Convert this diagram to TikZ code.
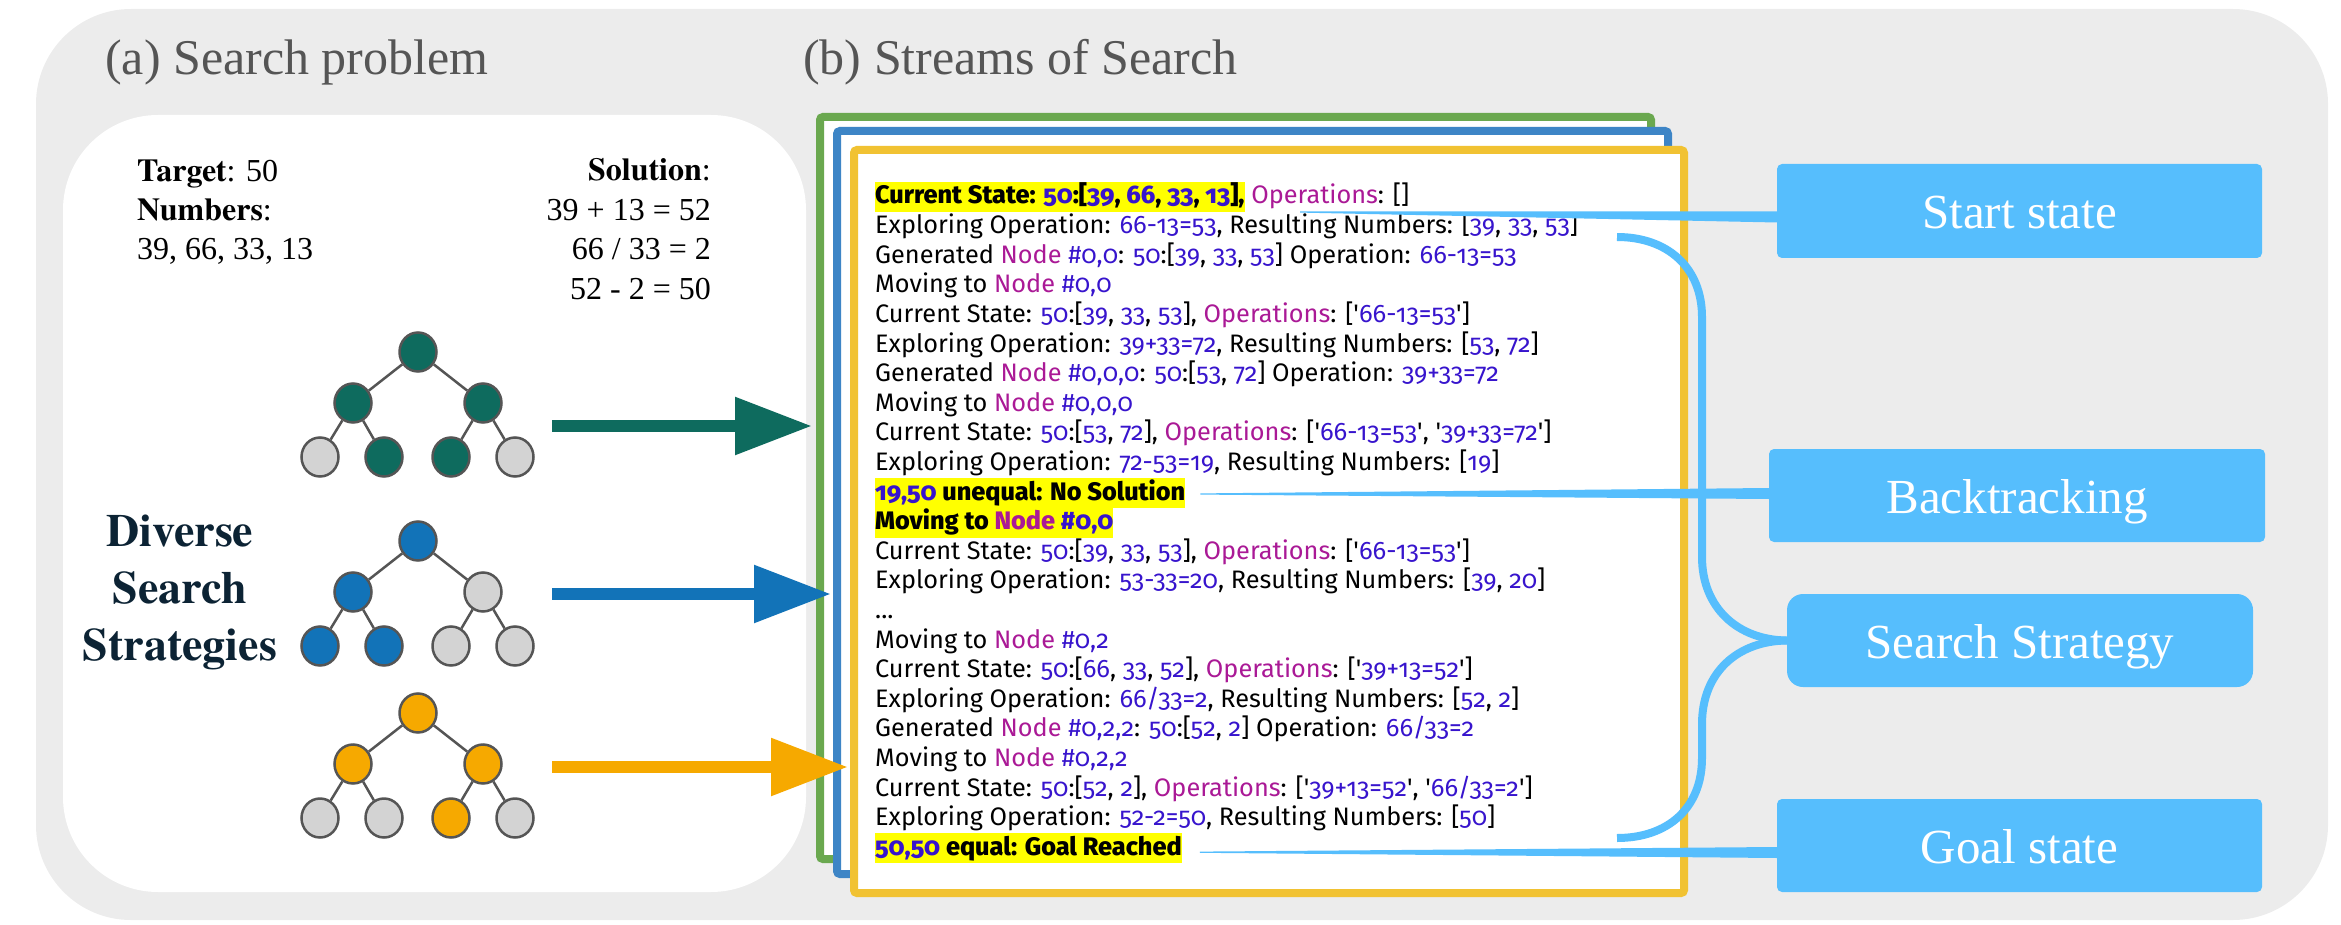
\documentclass[tikz,border=0pt]{standalone}
\usepackage{fontspec}
\setmainfont{Liberation Serif}
\newfontfamily\serifbold{texgyretermes-bold.otf}
\newfontfamily\logfont{Fira Sans}[Numbers=OldStyle, BoldFont={Fira Sans ExtraBold}]
\usetikzlibrary{arrows.meta,calc,shapes.geometric}

\definecolor{bggray}{RGB}{236,236,236}
\definecolor{boxblue}{RGB}{86,190,253}
\definecolor{framegreen}{RGB}{106,168,79}
\definecolor{frameblue}{RGB}{61,133,198}
\definecolor{frameorange}{RGB}{241,194,50}
\definecolor{tealc}{RGB}{14,107,94}
\definecolor{treeblue}{RGB}{18,115,184}
\definecolor{treeorange}{RGB}{246,169,0}
\definecolor{leafgray}{RGB}{211,211,211}
\definecolor{edgegray}{RGB}{85,85,85}
\definecolor{navy}{RGB}{12,35,52}
\definecolor{numblue}{RGB}{55,20,205}
\definecolor{keymag}{RGB}{170,25,150}
\definecolor{hly}{RGB}{255,255,0}
\definecolor{titlegray}{RGB}{85,85,85}

% colouring helpers for the search log
\newcommand\lognum[1]{\textcolor{numblue}{#1}}
\newcommand\logkey[1]{\textcolor{keymag}{#1}}
\newcommand\hlt[1]{{\setlength{\fboxsep}{0pt}\colorbox{hly}{\rule[-8pt]{0pt}{30pt}#1}}}
\newcommand\sq{\textquotesingle}
\newcommand\logtext{\logfont\fontsize{25.3}{29.6}\selectfont}
\newcommand\sbf[1]{{\serifbold #1}}

% a small binary search tree: prefix, root y, fills of root, two inner nodes, four leaves
\newcommand\searchtree[9]{%
  \node[tnode, fill=#3] (#1r) at (418,#2) {};
  \node[tnode, fill=#4] (#1a) at (353,{#2+51}) {};
  \node[tnode, fill=#5] (#1b) at (483,{#2+51}) {};
  \node[tnode, fill=#6] (#1c) at (320,{#2+105}) {};
  \node[tnode, fill=#7] (#1d) at (384,{#2+105}) {};
  \node[tnode, fill=#8] (#1e) at (451,{#2+105}) {};
  \node[tnode, fill=#9] (#1f) at (515,{#2+105}) {};
  \draw[tedge] (#1r) -- (#1a);
  \draw[tedge] (#1r) -- (#1b);
  \draw[tedge] (#1a) -- (#1c);
  \draw[tedge] (#1a) -- (#1d);
  \draw[tedge] (#1b) -- (#1e);
  \draw[tedge] (#1b) -- (#1f);
}

\begin{document}
\begin{tikzpicture}[x=1pt,y=-1pt,
  tnode/.style={ellipse, draw=edgegray, line width=2.5pt, minimum width=37pt, minimum height=39pt, inner sep=0pt},
  tedge/.style={draw=edgegray, line width=2.5pt},
  frame/.style={draw, line width=8pt, fill=white, rounded corners=3pt, inner sep=0pt},
  fatarrow/.style={line width=12pt, -{Triangle[length=77pt,width=55pt]}},
  logline/.style={anchor=base west, inner sep=0pt, font=\logtext},
  title/.style={anchor=base west, inner sep=0pt, text=titlegray, font=\fontsize{50}{50}\selectfont},
  lefttxt/.style={inner sep=0pt, font=\fontsize{32}{32}\selectfont},
  lbl/.style={fill=boxblue, text=white, rounded corners=5pt, inner sep=0pt,
              text height=36pt, text depth=0pt, font=\fontsize{49}{49}\selectfont},
  brace/.style={draw=boxblue, line width=8pt}
]
\useasboundingbox (0,0) rectangle (2341,925);

% panels
\fill[bggray, rounded corners=95pt] (36,9) rectangle (2328,920);
\fill[white, rounded corners=95pt] (63,115) rectangle (806,892);

% titles
\node[title] (ta) at (105,75) {(a) Search problem};
\node[title] (tb) at (803,75) {(b) Streams of Search};

% problem statement
\node[lefttxt, anchor=base west] (tg) at (137,182) {\sbf{Target}: 50};
\node[lefttxt, anchor=base west] (nu) at (137,221) {\sbf{Numbers}:};
\node[lefttxt, anchor=base west] (nl) at (137,260) {39, 66, 33, 13};
\node[lefttxt, anchor=base east] (so) at (711,181) {\sbf{Solution}:};
\node[lefttxt, anchor=base east] (s1) at (711,221) {39 + 13 = 52};
\node[lefttxt, anchor=base east] (s2) at (711,260) {66 / 33 = 2};
\node[lefttxt, anchor=base east] (s3) at (711,299) {52 - 2 = 50};

\node[align=center, inner sep=0pt, text=navy, font=\serifbold\fontsize{46}{57}\selectfont]
  (dss) at (180,592) {Diverse\\Search\\Strategies};

% search trees
\searchtree{ta}{352}{tealc}{tealc}{tealc}{leafgray}{tealc}{tealc}{leafgray}
\searchtree{tm}{541}{treeblue}{treeblue}{leafgray}{treeblue}{treeblue}{leafgray}{leafgray}
\searchtree{tz}{713}{treeorange}{treeorange}{treeorange}{leafgray}{leafgray}{treeorange}{leafgray}

% stacked streams
\node[frame, draw=framegreen, minimum width=831pt, minimum height=742pt] (fg) at (1235.5,488) {};
\node[frame, draw=frameblue, minimum width=831pt, minimum height=743pt] (fb) at (1252.5,502.5) {};
\node[frame, draw=frameorange, minimum width=830pt, minimum height=743pt] (fo) at (1269,521.5) {};

% arrows from the trees to the streams
\coordinate (g0) at (552,426);
\coordinate (b0) at (552,594);
\coordinate (o0) at (552,767);
\draw[fatarrow, tealc, shorten >=4pt] (g0) -- (g0 -| fg.west);
\draw[fatarrow, treeblue, shorten >=2pt] (b0) -- (b0 -| fb.west);
\draw[fatarrow, treeorange, shorten >=2pt] (o0) -- (o0 -| fo.west);

% search log
\node[logline] (l1) at (875,204.0) {\hlt{\bfseries Current State: \lognum{50}:[\lognum{39}, \lognum{66}, \lognum{33}, \lognum{13}],} \logkey{Operations}: []};
\node[logline] (l2) at (875,233.6) {Exploring Operation: \lognum{66-13=53}, Resulting Numbers: [\lognum{39}, \lognum{33}, \lognum{53}]};
\node[logline] (l3) at (875,263.2) {Generated \logkey{Node} \lognum{\#0,0}: \lognum{50}:[\lognum{39}, \lognum{33}, \lognum{53}] Operation: \lognum{66-13=53}};
\node[logline] (l4) at (875,292.8) {Moving to \logkey{Node} \lognum{\#0,0}};
\node[logline] (l5) at (875,322.4) {Current State: \lognum{50}:[\lognum{39}, \lognum{33}, \lognum{53}], \logkey{Operations}: [\sq\lognum{66-13=53}\sq]};
\node[logline] (l6) at (875,352.0) {Exploring Operation: \lognum{39+33=72}, Resulting Numbers: [\lognum{53}, \lognum{72}]};
\node[logline] (l7) at (875,381.6) {Generated \logkey{Node} \lognum{\#0,0,0}: \lognum{50}:[\lognum{53}, \lognum{72}] Operation: \lognum{39+33=72}};
\node[logline] (l8) at (875,411.2) {Moving to \logkey{Node} \lognum{\#0,0,0}};
\node[logline] (l9) at (875,440.8) {Current State: \lognum{50}:[\lognum{53}, \lognum{72}], \logkey{Operations}: [\sq\lognum{66-13=53}\sq, \sq\lognum{39+33=72}\sq]};
\node[logline] (l10) at (875,470.4) {Exploring Operation: \lognum{72-53=19}, Resulting Numbers: [\lognum{19}]};
\node[logline] (l11) at (875,500.0) {\hlt{\bfseries \lognum{19,50} unequal: No Solution}};
\node[logline] (l12) at (875,529.6) {\hlt{\bfseries Moving to \logkey{Node} \lognum{\#0,0}}};
\node[logline] (l13) at (875,559.2) {Current State: \lognum{50}:[\lognum{39}, \lognum{33}, \lognum{53}], \logkey{Operations}: [\sq\lognum{66-13=53}\sq]};
\node[logline] (l14) at (875,588.8) {Exploring Operation: \lognum{53-33=20}, Resulting Numbers: [\lognum{39}, \lognum{20}]};
\node[logline] (l15) at (875,618.4) {...};
\node[logline] (l16) at (875,648.0) {Moving to \logkey{Node} \lognum{\#0,2}};
\node[logline] (l17) at (875,677.6) {Current State: \lognum{50}:[\lognum{66}, \lognum{33}, \lognum{52}], \logkey{Operations}: [\sq\lognum{39+13=52}\sq]};
\node[logline] (l18) at (875,707.2) {Exploring Operation: \lognum{66/33=2}, Resulting Numbers: [\lognum{52}, \lognum{2}]};
\node[logline] (l19) at (875,736.8) {Generated \logkey{Node} \lognum{\#0,2,2}: \lognum{50}:[\lognum{52}, \lognum{2}] Operation: \lognum{66/33=2}};
\node[logline] (l20) at (875,766.4) {Moving to \logkey{Node} \lognum{\#0,2,2}};
\node[logline] (l21) at (875,796.0) {Current State: \lognum{50}:[\lognum{52}, \lognum{2}], \logkey{Operations}: [\sq\lognum{39+13=52}\sq, \sq\lognum{66/33=2}\sq]};
\node[logline] (l22) at (875,825.6) {Exploring Operation: \lognum{52-2=50}, Resulting Numbers: [\lognum{50}]};
\node[logline] (l23) at (875,855.2) {\hlt{\bfseries \lognum{50,50} equal: Goal Reached}};

% labels
\node[lbl, minimum width=485pt, minimum height=94pt] (ss) at (2019.5,211) {Start state};
\node[lbl, minimum width=496pt, minimum height=93pt] (bt) at (2017,495.5) {Backtracking};
\node[lbl, minimum width=466pt, minimum height=93pt, rounded corners=16pt] (sg) at (2020,640.5) {Search Strategy};
\node[lbl, minimum width=485pt, minimum height=93pt] (gs) at (2019.5,845.5) {Goal state};

% tapered pointers from log lines to labels
\coordinate (sst) at (1300,212);
\coordinate (bts) at ($(l11.base east)+(15,-6)$);
\coordinate (gss) at ($(l23.base east)+(18,-3)$);
\fill[boxblue] ($(sst)+(0,-0.6)$) -- ($(ss.west)+(0,0.5)$) -- ($(ss.west)+(0,11.5)$) -- ($(sst)+(0,0.6)$) -- cycle;
\fill[boxblue] ($(bts)+(0,-0.6)$) -- ($(bt.west)+(0,-7.5)$) -- ($(bt.west)+(0,3.5)$) -- ($(bts)+(0,0.6)$) -- cycle;
\fill[boxblue] ($(gss)+(0,-0.6)$) -- ($(gs.west)+(0,1.5)$) -- ($(gs.west)+(0,12.5)$) -- ($(gss)+(0,0.6)$) -- cycle;

% brace spanning the whole stream
\coordinate (bst) at (1617,237);
\coordinate (bsb) at (1617,838);
\draw[brace] (bst) .. controls (1668,237) and (1702,268) .. (1702,317) -- (1702,557)
  .. controls (1702,608) and (1738,640) .. (sg.west);
\draw[brace] (sg.west) .. controls (1738,641) and (1702,672) .. (1702,724) -- (1702,758)
  .. controls (1702,808) and (1668,838) .. (bsb);
\end{tikzpicture}
\end{document}
